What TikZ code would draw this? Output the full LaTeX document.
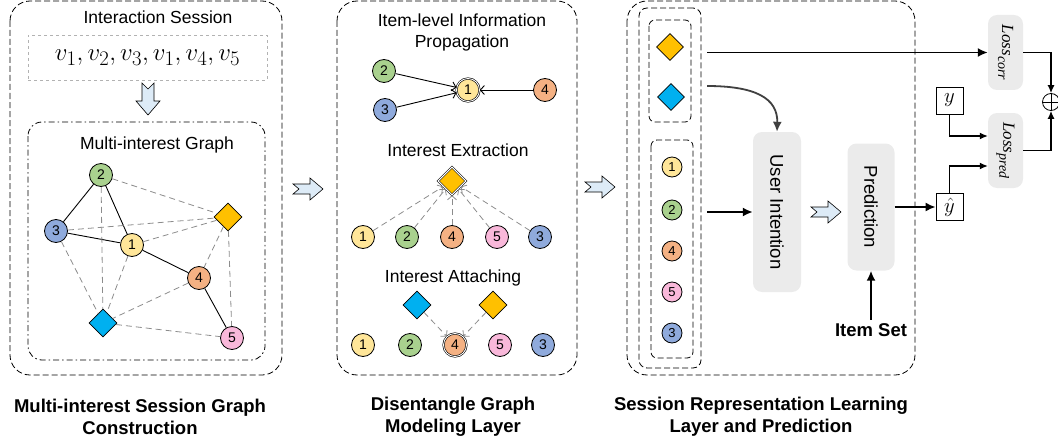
\documentclass[tikz,border=0pt]{standalone}
\usepackage{fontspec}
\setmainfont{Liberation Sans}
\newfontfamily\lossfont{Liberation Serif}
\usepackage{xcolor}
\usetikzlibrary{arrows.meta}
\usetikzlibrary{calc}
\usetikzlibrary{positioning}
\usetikzlibrary{shapes.geometric}

\definecolor{itemyellow}{HTML}{FFE699}
\definecolor{itemgreen}{HTML}{A9D18E}
\definecolor{itemblue}{HTML}{8FAADC}
\definecolor{itemorange}{HTML}{F4B183}
\definecolor{itempink}{HTML}{F9B8DA}
\definecolor{intyellow}{HTML}{FFC000}
\definecolor{intblue}{HTML}{00B0F0}
\definecolor{arrowfill}{HTML}{DDEBF7}
\definecolor{boxgray}{HTML}{EBEBEB}
\definecolor{hintgray}{HTML}{8C8C8C}

\tikzset{
  item/.style={circle, draw, line width=0.8pt, minimum size=23pt, inner sep=0pt, font=\fontsize{14}{14}\selectfont},
  i1/.style={item, fill=itemyellow},
  i2/.style={item, fill=itemgreen},
  i3/.style={item, fill=itemblue},
  i4/.style={item, fill=itemorange},
  i5/.style={item, fill=itempink},
  interest/.style={diamond, draw, line width=0.8pt, minimum size=28pt, inner sep=0pt},
  iy/.style={interest, fill=intyellow},
  ib/.style={interest, fill=intblue},
  chosen/.style={double=white, double distance=0.9pt, line width=0.6pt},
  panelframe/.style={line width=0.8pt, dash pattern=on 6pt off 3pt, rounded corners=20pt},
  txt/.style={font=\fontsize{17.5}{21}\selectfont, align=center},
  paneltitle/.style={font=\bfseries\fontsize{18.5}{22}\selectfont, align=center},
  graybox/.style={fill=boxgray, rounded corners=9pt, inner sep=0pt},
  lossbox/.style={graybox, rotate=-90, minimum width=75pt, minimum height=35pt, font=\lossfont\itshape\fontsize{17}{17}\selectfont},
  valbox/.style={draw, line width=0.8pt, minimum size=27pt, inner sep=0pt, font=\fontsize{22}{22}\selectfont},
  hint/.style={hintgray, line width=0.8pt, dash pattern=on 6pt off 4pt},
  opentip/.style={-{Straight Barb[length=4pt, width=9pt]}},
  blockarrow/.style={draw, fill=arrowfill, line width=0.6pt, line join=miter},
  flow/.style={-{Latex[length=10pt, width=9pt]}, line width=1.8pt},
  lossflow/.style={-{Latex[length=8pt, width=7pt]}, line width=1.2pt},
}
\newcommand{\losssub}[1]{\raisebox{-4pt}{\fontsize{14}{14}\selectfont #1}}

\begin{document}
\begin{tikzpicture}[x=1pt, y=-1pt]
  \useasboundingbox (0,0) rectangle (1058,444);

  % panel 1: session graph
  \draw [panelframe] (10,1) rectangle (282,375);
  \node [txt] (sesshead) at (158,17) {Interaction Session};
  \node [draw=gray!60, dashed, minimum width=239pt, minimum height=45pt, font=\fontsize{32}{32}\selectfont] (session) at (147.5,57.5) {$v_1,v_2,v_3,v_1,v_4,v_5$};
  \draw [blockarrow, shift={(148,83)}, rotate=-90] (0,-6) -- (18,-6) -- (18,-12) -- (32,0) -- (18,12) -- (18,6) -- (0,6) -- (6,0) -- cycle;
  \draw [line width=0.8pt, dash pattern=on 6pt off 3pt on 1.5pt off 3pt, rounded corners=14pt] (28,122) rectangle (265,360);
  \node [txt] (graphhead) at (157,145) {Multi-interest Graph};

  \node [i2] (g2) at (101,175) {2};
  \node [i3] (g3) at (56,231) {3};
  \node [i1] (g1) at (132,245) {1};
  \node [i4] (g4) at (199,278) {4};
  \node [i5] (g5) at (232,338) {5};
  \node [iy] (gy) at (228,217) {};
  \node [ib] (gb) at (103,323) {};

  \draw [line width=0.9pt] (g2) -- (g3) (g2) -- (g1) (g3) -- (g1) (g1) -- (g4) (g4) -- (g5);
  \foreach \a/\b in {g2/gy, g3/gy, g1/gy, gy/g4, gy/g5, g2/gb, g3/gb, g1/gb, g4/gb, gb/g5}
    \draw [hint] (\a) -- (\b);

  % panel 2: disentangle graph
  \draw [panelframe] (337,1) rectangle (577,375);
  \node [txt] (prophead) at (462,32.5) {Item-level Information\\Propagation};
  \node [i2] (p2) at (384,71) {2};
  \node [i3] (p3) at (385,110) {3};
  \node [i1, chosen] (p1) at (468,90) {1};
  \node [i4] (p4) at (545,90) {4};
  \draw [opentip, line width=0.9pt] (p2) -- (p1);
  \draw [opentip, line width=0.9pt] (p3) -- (p1);
  \draw [opentip, line width=0.9pt] (p4) -- (p1);

  \node [txt] (exthead) at (458,150) {Interest Extraction};
  \node [iy, chosen] (ey) at (452,181) {};
  \node [i1] (e1) at (363,237) {1};
  \node [i2] (e2) at (407,237) {2};
  \node [i4] (e4) at (452,237) {4};
  \node [i5] (e5) at (497,237) {5};
  \node [i3] (e3) at (540,237) {3};
  \foreach \e in {e1, e2, e4, e5, e3}
    \draw [hint, opentip] (\e) -- (ey);

  \node [txt] (atthead) at (453,278) {Interest Attaching};
  \node [ib] (ab) at (417,305) {};
  \node [iy] (ay) at (493,305) {};
  \node [i1] (a1) at (363,345) {1};
  \node [i2] (a2) at (410,345) {2};
  \node [i4, chosen] (a4) at (455,345) {4};
  \node [i5] (a5) at (500,345) {5};
  \node [i3] (a3) at (543,345) {3};
  \draw [hint, opentip] (ab) -- (a4);
  \draw [hint, opentip] (ay) -- (a4);

  \foreach \ax/\ay in {293/189, 585/187, 811/212}
    \draw [blockarrow, shift={(\ax,\ay)}] (0,-5) -- (17,-5) -- (17,-11) -- (30,0) -- (17,11) -- (17,5) -- (0,5) -- (6,0) -- cycle;

  % panel 3: representation and prediction
  \draw [panelframe] (627,1) rectangle (915,375);
  \node [draw, line width=0.8pt, dash pattern=on 6pt off 3pt, rounded corners=8pt, minimum width=62pt, minimum height=360pt] (stack) at (670,188) {};
  \draw [line width=0.8pt, dash pattern=on 6pt off 3pt, rounded corners=6pt] (649,20) rectangle (691,122);
  \draw [line width=0.8pt, dash pattern=on 6pt off 3pt, rounded corners=6pt] (651,140) rectangle (693,358);
  \node [iy, minimum size=27pt] (sy) at (670,47) {};
  \node [ib, minimum size=27pt] (sb) at (671,97) {};
  \foreach \n/\c/\y in {1/i1/167, 2/i2/210, 4/i4/251, 5/i5/292, 3/i3/333}
    \node [\c, minimum size=20pt, font=\fontsize{13}{13}\selectfont] (s\n) at (672,\y) {\n};

  \node [graybox, minimum width=48pt, minimum height=160pt] (intent) at (777,212) {\fontsize{18.5}{18.5}\selectfont\rotatebox{-90}{User Intention}};
  \node [graybox, minimum width=47pt, minimum height=127pt] (pred) at (871,207) {\fontsize{18.5}{18.5}\selectfont\rotatebox{-90}{Prediction}};
  \node [paneltitle] (itemset) at (871,330) {Item Set};
  \node [valbox] (yhat) at (949.5,207) {$\hat{y}$};
  \node [valbox] (ytrue) at (949.5,100.5) {$y$};
  \node [lossbox] (corr) at (1005.5,52.5) {Loss\losssub{corr}};
  \node [lossbox] (predloss) at (1005.5,150.5) {Loss\losssub{pred}};
  \node [circle, draw, line width=0.8pt, minimum size=17pt, inner sep=0pt] (sum) at (1051,102) {};
  \draw [line width=0.8pt] (sum.north) -- (sum.south) (sum.west) -- (sum.east);

  \coordinate (cout) at (707,52.5);
  \coordinate (bout) at (707,86);
  \coordinate (iout) at (707,212);
  \draw [flow] (cout) -- (corr);
  \draw [flow, black!75] (bout) .. controls (755,86) and (778,98) .. (intent.north);
  \draw [flow] (iout) -- (intent);
  \draw [flow] (pred) -- (yhat);
  \draw [flow] (itemset) -- (pred);
  % rotated loss boxes: north faces right, south faces left
  \draw [lossflow] (corr.north) -| (sum.north);
  \draw [lossflow] (predloss.north) -| (sum.south);
  \draw [lossflow] (ytrue.south) |- ([yshift=14.5pt]predloss.south);
  \draw [lossflow] (yhat.north) |- ([yshift=-15.5pt]predloss.south);

  % titles
  \node [paneltitle] (title1) at (140,417) {Multi-interest Session Graph\\Construction};
  \node [paneltitle] (title2) at (453,417) {Disentangle Graph\\Modeling Layer};
  \node [paneltitle] (title3) at (761,417) {Session Representation Learning\\Layer and Prediction};
\end{tikzpicture}
\end{document}
